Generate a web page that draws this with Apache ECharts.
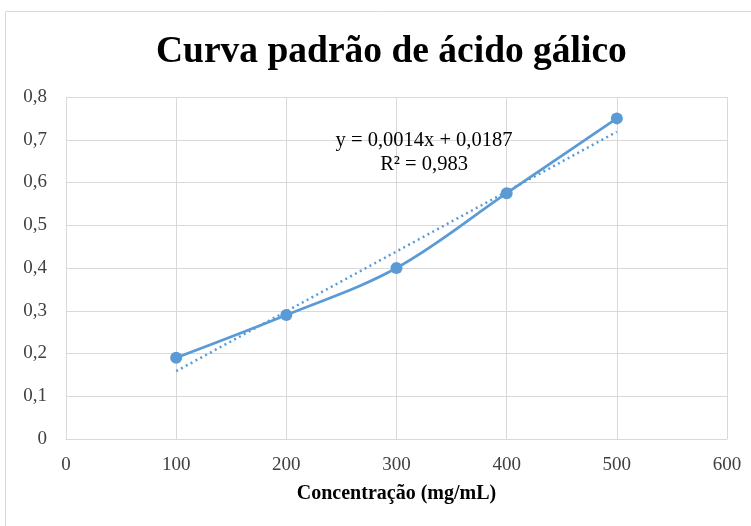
<!DOCTYPE html>
<html>
<head>
<meta charset="utf-8">
<script src="https://cdn.jsdelivr.net/npm/echarts@6/dist/echarts.min.js"></script>
<style>
html,body{margin:0;padding:0;background:#fff;}
#chart{width:751px;height:526px;}
</style>
</head>
<body>
<div id="chart"></div>
<script>
const concentrations = [100, 200, 300, 400, 500];
const absorbance = [0.19, 0.29, 0.40, 0.575, 0.75];
const trendSlope = 0.0014;
const trendIntercept = 0.0187;
const trendRange = [100, 500];
const xTicks = [0, 100, 200, 300, 400, 500, 600];
const yTicks = [0, 0.1, 0.2, 0.3, 0.4, 0.5, 0.6, 0.7, 0.8];
const titleText = 'Curva padrão de ácido gálico';
const xAxisTitle = 'Concentração (mg/mL)';
const equationLines = ['y = 0,0014x + 0,0187', 'R² = 0,983'];

const dataPts = concentrations.map((x, i) => [x, absorbance[i]]);
const trendPts = trendRange.map(x => [x, trendSlope * x + trendIntercept]);
const fmt = v => String(Math.round(v * 10) / 10).replace('.', ',');

const chart = echarts.init(document.getElementById('chart'), null, {renderer: 'canvas'});
const serif = '"Liberation Serif", "Times New Roman", serif';
chart.setOption({
  animation: false,
  backgroundColor: '#fff',
  title: {
    text: titleText, left: 151, top: 28,
    textStyle: {fontFamily: serif, fontWeight: 'bold', fontSize: 37.5, color: '#000'}
  },
  grid: {left: 66, right: 24, top: 97, bottom: 87},
  xAxis: {
    type: 'value', min: xTicks[0], max: xTicks[xTicks.length - 1], interval: 100,
    name: xAxisTitle, nameLocation: 'middle', nameGap: 45,
    nameTextStyle: {fontFamily: serif, fontWeight: 'bold', fontSize: 20, color: '#000'},
    axisLine: {show: true, lineStyle: {color: '#d9d9d9', width: 1}},
    axisTick: {show: false},
    axisLabel: {fontFamily: serif, fontSize: 19, color: '#404040', margin: 17},
    splitLine: {show: true, lineStyle: {color: '#d9d9d9', width: 1}}
  },
  yAxis: {
    type: 'value', min: yTicks[0], max: yTicks[yTicks.length - 1], interval: 0.1,
    axisLine: {show: false}, axisTick: {show: false},
    axisLabel: {fontFamily: serif, fontSize: 19, color: '#404040', margin: 19, formatter: fmt},
    splitLine: {show: true, lineStyle: {color: '#d9d9d9', width: 1}}
  },
  series: [
    {
      type: 'line', data: trendPts, symbol: 'none', silent: true,
      lineStyle: {color: '#5B9BD5', width: 2.5, type: [2, 3.5]}, z: 2
    },
    {
      type: 'line', data: dataPts, smooth: 0.35, symbol: 'circle', symbolSize: 12,
      itemStyle: {color: '#5B9BD5'},
      lineStyle: {color: '#5B9BD5', width: 2.75}, z: 3
    }
  ]
});
const eqX = chart.convertToPixel({gridIndex: 0}, [325, 0])[0];
chart.setOption({
  graphic: [
    {type: 'rect', shape: {x: 5.5, y: 11.5, width: 760, height: 540},
     style: {fill: 'none', stroke: '#d9d9d9', lineWidth: 1}, silent: true, z: -10},
    {type: 'text', x: eqX, y: 129, z: 100, silent: true,
     style: {text: equationLines.join('\n'), align: 'center', verticalAlign: 'top',
       font: '20.5px ' + serif, fill: '#000', lineHeight: 24}}
  ]
});
</script>
</body>
</html>
